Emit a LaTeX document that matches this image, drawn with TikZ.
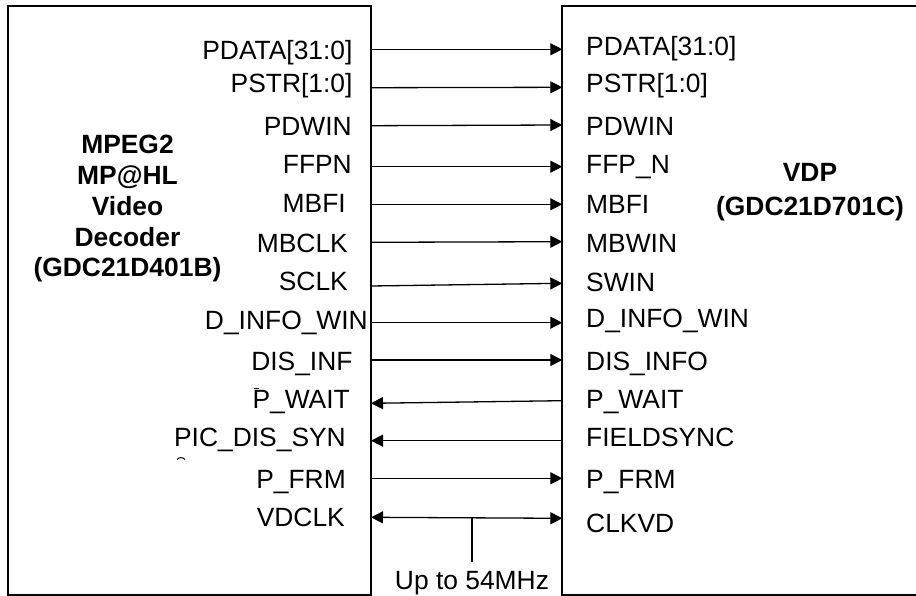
\documentclass[tikz,border=0pt]{standalone}
\usepackage{fontspec}
\setmainfont{Liberation Sans}
\usetikzlibrary{arrows.meta, positioning}

\tikzset{
  chip/.style={draw, line width=2pt, inner sep=0pt},
  sig/.style={line width=1.3pt, -{Triangle[length=12pt, width=12pt]}},
  bisig/.style={line width=1.3pt, {Triangle[length=12pt, width=12pt]}-{Triangle[length=12pt, width=12pt]}},
  pin/.style={inner sep=0pt, text height=18.9pt, text depth=0pt, font=\fontsize{26.4pt}{30.75pt}\selectfont},
  title/.style={inner sep=0pt, align=center, font=\fontsize{26.4pt}{30.75pt}\selectfont\bfseries}
}

\begin{document}
\begin{tikzpicture}[x=1pt, y=-1pt]
    \useasboundingbox (0,0) rectangle (916,596);

    % chips
    \node[chip, minimum width=363pt, minimum height=589pt] (dec) at (189.5,300.5) {};
    \node[chip, minimum width=367.7pt, minimum height=589pt] (vdp) at (746.15,300.5) {};
    \node[title] (decname) at (127.5,209) {MPEG2\\MP@HL\\Video\\Decoder\\(GDC21D401B)};
    \node[title] (vdpname) at (810,192) {VDP\\[2.75pt](GDC21D701C)};

    % pins of the decoder
    \coordinate (o1) at (371,49.3);
    \coordinate (o2) at (371,87.7);
    \coordinate (o3) at (371,125.7);
    \coordinate (o4) at (371,166.7);
    \coordinate (o5) at (371,204.3);
    \coordinate (o6) at (371,242.3);
    \coordinate (o7) at (371,286);
    \coordinate (o8) at (371,322.7);
    \coordinate (o9) at (371,360);
    \coordinate (o10) at (371,403.3);
    \coordinate (o11) at (371,440.7);
    \coordinate (o12) at (371,478.3);
    \coordinate (o13) at (371,517.3);

    % pins of the vdp
    \coordinate (i1) at (562.3,49.3);
    \coordinate (i2) at (562.3,87.3);
    \coordinate (i3) at (562.3,125);
    \coordinate (i4) at (562.3,166.7);
    \coordinate (i5) at (562.3,204.3);
    \coordinate (i6) at (562.3,241.7);
    \coordinate (i7) at (562.3,283.3);
    \coordinate (i8) at (562.3,322.7);
    \coordinate (i9) at (562.3,360);
    \coordinate (i10) at (562.3,400.7);
    \coordinate (i11) at (562.3,440.7);
    \coordinate (i12) at (562.3,478.3);
    \coordinate (i13) at (562.3,518.3);

    % decoder labels
    \node[pin, anchor=east] (lPDATA) at (352.7,50) {PDATA[31:0]};
    \node[pin, anchor=east] (lPSTR) at (352.7,83.5) {PSTR[1:0]};
    \node[pin, anchor=east] (lPDWIN) at (352,126) {PDWIN};
    \node[pin, anchor=east] (lFFPN) at (352,164) {FFPN};
    \node[pin, anchor=east] (lMBFI) at (346,203) {MBFI};
    \node[pin, anchor=east] (lMBCLK) at (348,243) {MBCLK};
    \node[pin, anchor=east] (lSCLK) at (348,281) {SCLK};
    \node[pin, anchor=east] (lDINFO) at (368,320) {D\_INFO\_WIN};
    \node[pin, anchor=east] (lDIS) at (352.7,361) {DIS\_INF};
    \node[pin, anchor=east] (lPWAIT) at (350,399) {P\_WAIT};
    \node[pin, anchor=east] (lPIC) at (346,437) {PIC\_DIS\_SYN};
    \node[pin, anchor=east] (lPFRM) at (346,479) {P\_FRM};
    \node[pin, anchor=east] (lVDCLK) at (345,517) {VDCLK};

    % vdp labels
    \node[pin, anchor=west] (rPDATA) at (586,46.5) {PDATA[31:0]};
    \node[pin, anchor=west] (rPSTR) at (586,83) {PSTR[1:0]};
    \node[pin, anchor=west] (rPDWIN) at (586,126) {PDWIN};
    \node[pin, anchor=west] (rFFPN) at (586,164.5) {FFP\_N};
    \node[pin, anchor=west] (rMBFI) at (586,204) {MBFI};
    \node[pin, anchor=west] (rMBWIN) at (586,243) {MBWIN};
    \node[pin, anchor=west] (rSWIN) at (586,282) {SWIN};
    \node[pin, anchor=west] (rDINFO) at (586,318) {D\_INFO\_WIN};
    \node[pin, anchor=west] (rDIS) at (586,361) {DIS\_INFO};
    \node[pin, anchor=west] (rPWAIT) at (586,399) {P\_WAIT};
    \node[pin, anchor=west] (rFIELD) at (586,437) {FIELDSYNC};
    \node[pin, anchor=west] (rPFRM) at (586,479) {P\_FRM};
    \node[pin, anchor=west] (rCLKVD) at (586,523) {CLKVD};

    % signals
    \draw[sig] (o1) -- (i1);
    \draw[sig] (o2) -- (i2);
    \draw[sig] (o3) -- (i3);
    \draw[sig] (o4) -- (i4);
    \draw[sig] (o5) -- (i5);
    \draw[sig] (o6) -- (i6);
    \draw[sig] (o7) -- (i7);
    \draw[sig] (o8) -- (i8);
    \draw[sig] (o9) -- (i9);
    \draw[sig] (i10) -- (o10);
    \draw[sig] (i11) -- (o11);
    \draw[sig] (o12) -- (i12);
    \draw[bisig] (o13) -- (i13);

    % clock note
    \coordinate (tap) at (472,517.8);
    \node[pin] (freq) at (472,580) {Up to 54MHz};
    \draw[line width=1.3pt, shorten >=8.5pt] (tap) -- (freq.north);

    % stray marks
    \draw[line width=1pt] (254,388.5) -- (259,388.5);
    \draw[line width=1pt] (177,459.5) .. controls (179,457) and (183,457) .. (185,459.5);
\end{tikzpicture}
\end{document}
